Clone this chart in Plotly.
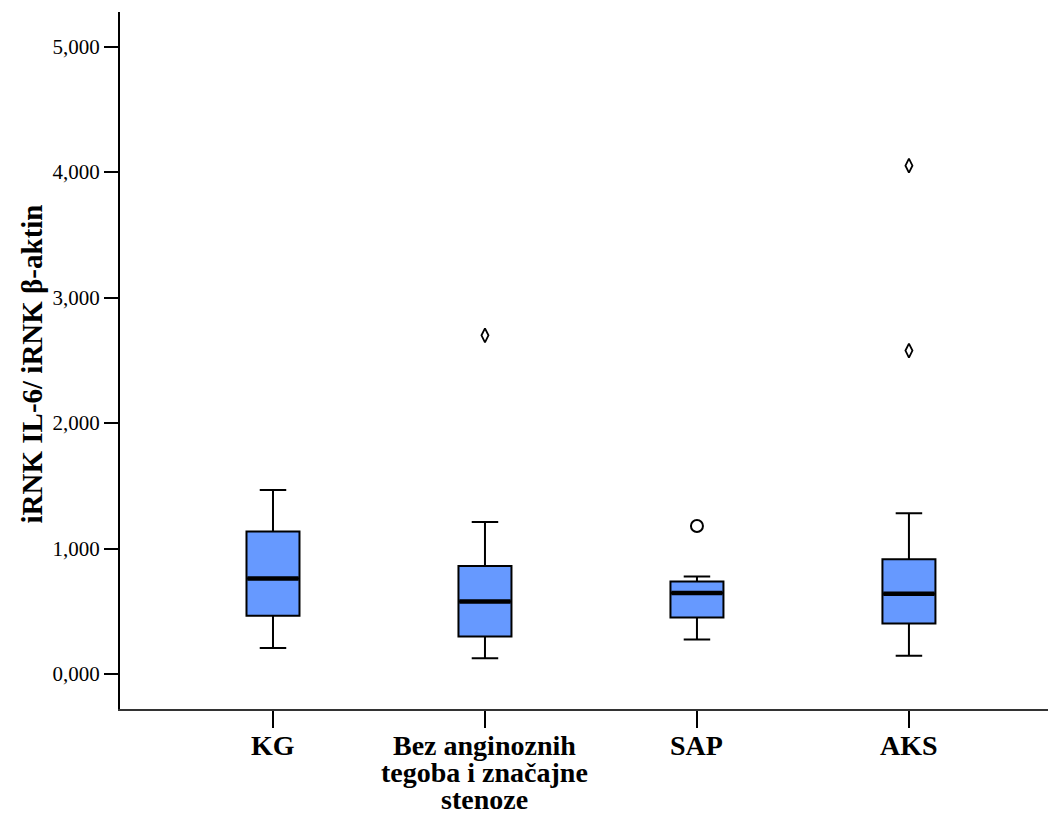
import plotly.graph_objects as go

# ---- data ----
categories = ["KG", "Bez anginoznih\ntegoba i značajne\nstenoze", "SAP", "AKS"]
lower_whisker = [0.207, 0.125, 0.276, 0.146]
q1 = [0.464, 0.300, 0.451, 0.403]
median = [0.762, 0.579, 0.645, 0.639]
q3 = [1.136, 0.862, 0.738, 0.915]
upper_whisker = [1.467, 1.212, 0.777, 1.281]

outlier_cat = [2]          # circles (outliers)
outlier_val = [1.180]
extreme_cat = [1, 3, 3]    # diamonds (extreme values)
extreme_val = [2.699, 4.051, 2.578]

y_ticks = [0, 1, 2, 3, 4, 5]
y_title = "iRNK IL-6/ iRNK β-aktin"

# ---- style ----
FONT = "Liberation Serif"
BOX_FILL = "#6699ff"
BOX_W = 0.25
pos = list(range(len(categories)))

fig = go.Figure()
fig.add_trace(go.Box(
    x=pos, q1=q1, median=median, q3=q3,
    lowerfence=lower_whisker, upperfence=upper_whisker,
    fillcolor=BOX_FILL, line=dict(color="black", width=2),
    width=BOX_W, whiskerwidth=0.5, boxpoints=False,
    showlegend=False, hoverinfo="skip",
))

# thicker median lines
for i, m in zip(pos, median):
    fig.add_trace(go.Scatter(
        x=[i - BOX_W / 2 + 0.004, i + BOX_W / 2 - 0.004], y=[m, m],
        mode="lines", line=dict(color="black", width=4.5),
        showlegend=False, hoverinfo="skip",
    ))

fig.add_trace(go.Scatter(
    x=outlier_cat, y=outlier_val, mode="markers",
    marker=dict(symbol="circle-open", size=12, color="black", line=dict(width=2)),
    showlegend=False, hoverinfo="skip",
))
fig.add_trace(go.Scatter(
    x=extreme_cat, y=extreme_val, mode="markers",
    marker=dict(symbol="diamond-tall-open", size=10, color="black", line=dict(width=1.8)),
    showlegend=False, hoverinfo="skip",
))

# category labels (tight line spacing like the original)
annotations = []
line_step = 27
for i, lab in zip(pos, categories):
    for k, line in enumerate(lab.split("\n")):
        annotations.append(dict(
            x=i, xref="x", y=0, yref="paper", yanchor="middle",
            yshift=-36 - k * line_step, text="<b>" + line + "</b>",
            showarrow=False, font=dict(family=FONT, size=28, color="black"),
        ))

annotations.append(dict(
    x=0, xref="paper", xanchor="center", xshift=-89, y=0.5, yref="paper",
    yanchor="middle", yshift=-4,
    text="<b>" + y_title + "</b>", textangle=-90, showarrow=False,
    font=dict(family=FONT, size=29, color="black"),
))

fig.update_layout(
    width=1048, height=813,
    margin=dict(l=120, r=0, t=12, b=104),
    paper_bgcolor="white", plot_bgcolor="white",
    separators=",.",
    annotations=annotations,
    xaxis=dict(
        range=[-0.7217, 3.656], tickvals=pos, showticklabels=False,
        ticks="outside", ticklen=17, tickwidth=2, tickcolor="black",
        showline=True, linecolor="#333", linewidth=2,
        showgrid=False, zeroline=False,
    ),
    yaxis=dict(
        range=[-0.2785, 5.276], tickvals=y_ticks, tickformat=".3f",
        ticks="outside", ticklen=14, tickwidth=2, tickcolor="black",
        tickfont=dict(family=FONT, size=21, color="black"),
        showline=True, linecolor="black", linewidth=2,
        showgrid=False, zeroline=False,
    ),
)

fig.write_html("out.html")
